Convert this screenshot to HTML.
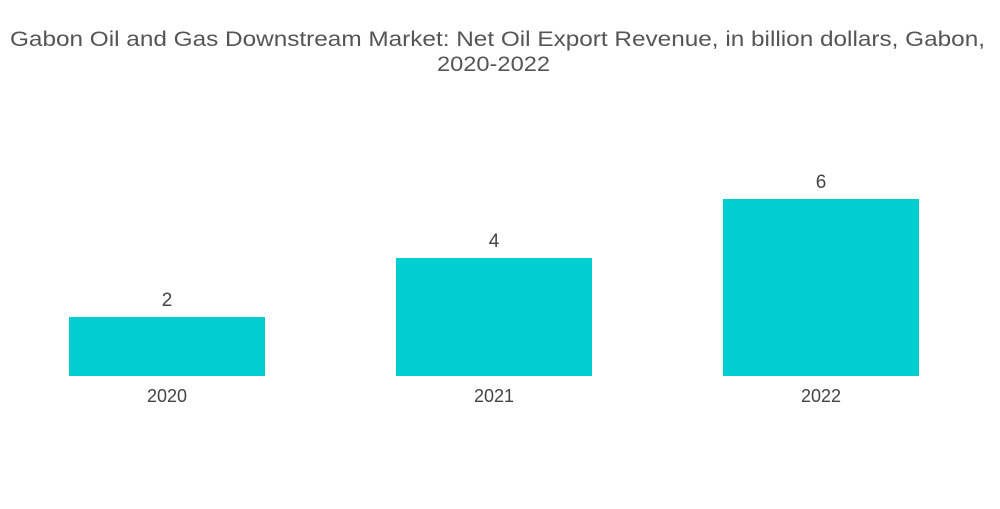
<!DOCTYPE html>
<html><head><meta charset="utf-8"><style>
html,body{margin:0;padding:0;background:#fff;}
body{width:1000px;height:504px;overflow:hidden;font-family:"Liberation Sans",sans-serif;}
</style></head><body>
<svg width="1000" height="504" xmlns="http://www.w3.org/2000/svg">
<text x="10" y="46" font-size="21" fill="#555" textLength="975" lengthAdjust="spacingAndGlyphs">Gabon Oil and Gas Downstream Market: Net Oil Export Revenue, in billion dollars, Gabon,</text>
<text x="437" y="71" font-size="21" fill="#555" textLength="113" lengthAdjust="spacingAndGlyphs">2020-2022</text>
<g id="bars"></g>
</svg>
<script>
const categories = ["2020","2021","2022"];
const values = [2,4,6];
const valueLabels = ["2","4","6"];
const baseY = 376, pxPerUnit = 29.5, x0 = 69, step = 327, barW = 196;
function yScale(v){ return baseY - v*pxPerUnit; }
function xScale(i){ return x0 + i*step; }
const g = document.getElementById('bars');
const ns = "http://www.w3.org/2000/svg";
categories.forEach((c,i)=>{
  const r = document.createElementNS(ns,'rect');
  
  
  r.setAttribute('x', xScale(i));
  r.setAttribute('y', yScale(values[i]));
  r.setAttribute('width', barW);
  r.setAttribute('height', baseY - yScale(values[i]));
  r.setAttribute('fill', '#00ced1');
  g.appendChild(r);
  const t = document.createElementNS(ns,'text');
  
  
  t.setAttribute('x', xScale(i)+barW/2);
  t.setAttribute('y', yScale(values[i]) - 11);
  t.setAttribute('text-anchor','middle');
  t.setAttribute('font-size','19');
  t.setAttribute('fill','#444');
  t.textContent = valueLabels[i];
  g.appendChild(t);
  const a = document.createElementNS(ns,'text');
  
  
  a.setAttribute('x', xScale(i)+barW/2);
  a.setAttribute('y', 402);
  a.setAttribute('text-anchor','middle');
  a.setAttribute('font-size','18');
  a.setAttribute('fill','#444');
  a.textContent = c;
  g.appendChild(a);
});
</script>
</body></html>
